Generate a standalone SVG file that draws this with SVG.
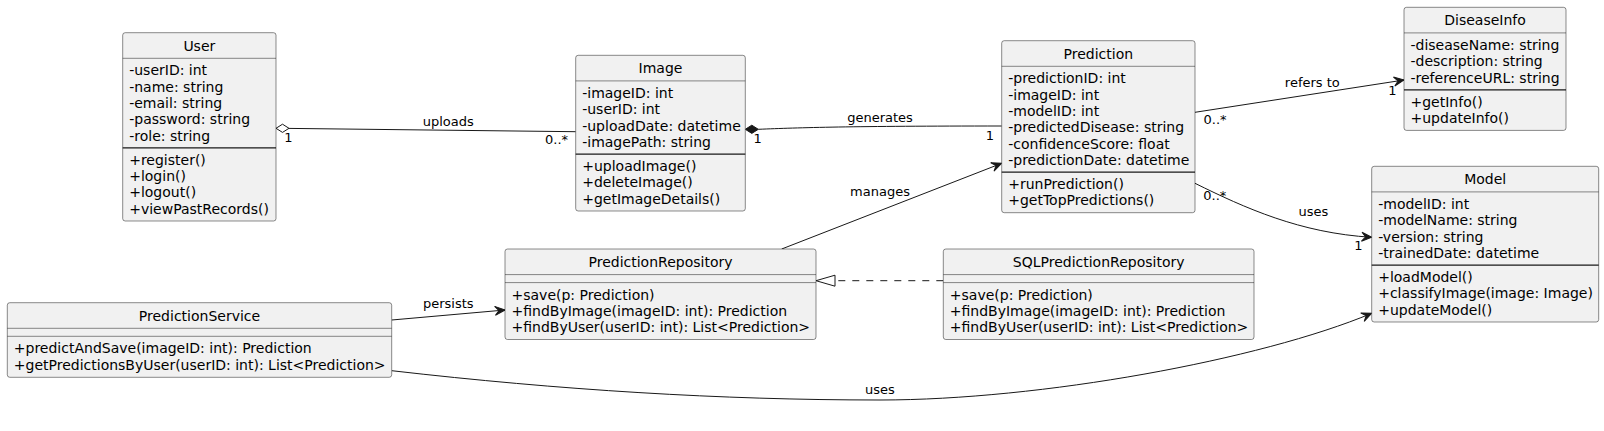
<svg xmlns="http://www.w3.org/2000/svg" width="1604" height="431" viewBox="0 0 1604 431">
<style>
.box{fill:#F1F1F1;stroke:#181818;stroke-width:0.5}
.div{stroke:#181818;stroke-width:0.5}
.sep{stroke:#181818;stroke-width:1.2}
text{font-family:"DejaVu Sans",sans-serif;fill:#000000}
.t{font-size:14px;text-anchor:middle}
.m{font-size:14px}
.l{font-size:13px}
.lc{font-size:13px;text-anchor:middle}
.edge{fill:none;stroke:#181818;stroke-width:1}
</style>
<defs>
<marker id="arr" markerUnits="userSpaceOnUse" markerWidth="14" markerHeight="12" viewBox="-12 -6 14 12" refX="0" refY="0" orient="auto">
<path d="M0,0 L-10,-4.5 L-6,0 L-10,4.5 Z" fill="#181818" stroke="#181818" stroke-width="1"/>
</marker>
</defs>
<rect width="1604" height="431" fill="#FFFFFF"/>

<g id="connectors">
<path class="edge" d="M289,128.4 L575.7,131.7"/>
<polygon points="276,128.3 282.5,124.2 289,128.3 282.5,132.4" fill="#FFFFFF" stroke="#181818" stroke-width="1"/>
<text class="lc" x="448.3" y="125.5">uploads</text>
<text class="lc" x="288.3" y="141.5">1</text>
<text class="l" x="545" y="143.7">0..*</text>

<path class="edge" d="M758.3,129.3 C800,127.6 850,126 1001.7,126"/>
<polygon points="745.3,129.3 751.8,125.2 758.3,129.3 751.8,133.4" fill="#181818" stroke="#181818" stroke-width="1"/>
<text class="lc" x="880" y="122">generates</text>
<text class="lc" x="757.7" y="143">1</text>
<text class="lc" x="990" y="139.7">1</text>

<path class="edge" d="M1195,112.3 L1404,80" marker-end="url(#arr)"/>
<text class="lc" x="1312.3" y="87">refers to</text>
<text class="l" x="1203.5" y="123.7">0..*</text>
<text class="lc" x="1392.3" y="95.4">1</text>

<path class="edge" d="M1195,183.3 C1245,208 1300,233 1371.7,237.3" marker-end="url(#arr)"/>
<text class="lc" x="1313.3" y="215.5">uses</text>
<text class="l" x="1203.3" y="199.7">0..*</text>
<text class="lc" x="1358.3" y="249.7">1</text>

<path class="edge" d="M781.7,249 L1001.7,163.3" marker-end="url(#arr)"/>
<text class="lc" x="880" y="195.5">manages</text>

<path class="edge" d="M391.7,320 L505,310" marker-end="url(#arr)"/>
<text class="lc" x="448.3" y="308">persists</text>

<path class="edge" d="M943.3,280.7 L835,280.7" stroke-dasharray="7,7"/>
<polygon points="816,280.7 835,275.2 835,286.2" fill="#FFFFFF" stroke="#181818" stroke-width="1"/>

<path class="edge" d="M391.7,370.7 C560,390 720,400 880,400 C1040,400 1260,360 1371.7,313.3" marker-end="url(#arr)"/>
<text class="lc" x="880" y="394">uses</text>
</g>

<g id="User">
<rect class="box" x="122.7" y="32.7" width="153.3" height="188.3" rx="2.5"/>
<text class="t" x="199.35" y="50.5">User</text>
<line class="div" x1="122.7" y1="58.3" x2="276" y2="58.3"/>
<text class="m" x="129.2" y="75.3">-userID: int</text>
<text class="m" x="129.2" y="91.6">-name: string</text>
<text class="m" x="129.2" y="107.9">-email: string</text>
<text class="m" x="129.2" y="124.2">-password: string</text>
<text class="m" x="129.2" y="140.5">-role: string</text>
<line class="sep" x1="122.7" y1="147.8" x2="276" y2="147.8"/>
<text class="m" x="129.2" y="164.8">+register()</text>
<text class="m" x="129.2" y="181.1">+login()</text>
<text class="m" x="129.2" y="197.4">+logout()</text>
<text class="m" x="129.2" y="213.7">+viewPastRecords()</text>
</g>

<g id="Image">
<rect class="box" x="575.7" y="55.3" width="169.6" height="155.7" rx="2.5"/>
<text class="t" x="660.5" y="73.1">Image</text>
<line class="div" x1="575.7" y1="80.9" x2="745.3" y2="80.9"/>
<text class="m" x="582.2" y="97.9">-imageID: int</text>
<text class="m" x="582.2" y="114.2">-userID: int</text>
<text class="m" x="582.2" y="130.5">-uploadDate: datetime</text>
<text class="m" x="582.2" y="146.8">-imagePath: string</text>
<line class="sep" x1="575.7" y1="154.1" x2="745.3" y2="154.1"/>
<text class="m" x="582.2" y="171.1">+uploadImage()</text>
<text class="m" x="582.2" y="187.4">+deleteImage()</text>
<text class="m" x="582.2" y="203.7">+getImageDetails()</text>
</g>

<g id="Prediction">
<rect class="box" x="1001.7" y="40.7" width="193.3" height="172" rx="2.5"/>
<text class="t" x="1098.35" y="58.5">Prediction</text>
<line class="div" x1="1001.7" y1="66.3" x2="1195" y2="66.3"/>
<text class="m" x="1008.2" y="83.3">-predictionID: int</text>
<text class="m" x="1008.2" y="99.6">-imageID: int</text>
<text class="m" x="1008.2" y="115.9">-modelID: int</text>
<text class="m" x="1008.2" y="132.2">-predictedDisease: string</text>
<text class="m" x="1008.2" y="148.5">-confidenceScore: float</text>
<text class="m" x="1008.2" y="164.8">-predictionDate: datetime</text>
<line class="sep" x1="1001.7" y1="172.1" x2="1195" y2="172.1"/>
<text class="m" x="1008.2" y="189.1">+runPrediction()</text>
<text class="m" x="1008.2" y="205.4">+getTopPredictions()</text>
</g>

<g id="DiseaseInfo">
<rect class="box" x="1404" y="7.3" width="162" height="123.1" rx="2.5"/>
<text class="t" x="1485" y="25.1">DiseaseInfo</text>
<line class="div" x1="1404" y1="32.9" x2="1566" y2="32.9"/>
<text class="m" x="1410.5" y="49.9">-diseaseName: string</text>
<text class="m" x="1410.5" y="66.2">-description: string</text>
<text class="m" x="1410.5" y="82.5">-referenceURL: string</text>
<line class="sep" x1="1404" y1="89.8" x2="1566" y2="89.8"/>
<text class="m" x="1410.5" y="106.8">+getInfo()</text>
<text class="m" x="1410.5" y="123.1">+updateInfo()</text>
</g>

<g id="Model">
<rect class="box" x="1371.7" y="166.3" width="227" height="155.7" rx="2.5"/>
<text class="t" x="1485.2" y="184.1">Model</text>
<line class="div" x1="1371.7" y1="191.9" x2="1598.7" y2="191.9"/>
<text class="m" x="1378.2" y="208.9">-modelID: int</text>
<text class="m" x="1378.2" y="225.2">-modelName: string</text>
<text class="m" x="1378.2" y="241.5">-version: string</text>
<text class="m" x="1378.2" y="257.8">-trainedDate: datetime</text>
<line class="sep" x1="1371.7" y1="265.1" x2="1598.7" y2="265.1"/>
<text class="m" x="1378.2" y="282.1">+loadModel()</text>
<text class="m" x="1378.2" y="298.4">+classifyImage(image: Image)</text>
<text class="m" x="1378.2" y="314.7">+updateModel()</text>
</g>

<g id="PredictionRepository">
<rect class="box" x="505" y="249" width="311" height="90.5" rx="2.5"/>
<text class="t" x="660.5" y="266.8">PredictionRepository</text>
<line class="div" x1="505" y1="274.6" x2="816" y2="274.6"/>
<line class="div" x1="505" y1="282.6" x2="816" y2="282.6"/>
<text class="m" x="511.5" y="299.6">+save(p: Prediction)</text>
<text class="m" x="511.5" y="315.9">+findByImage(imageID: int): Prediction</text>
<text class="m" x="511.5" y="332.2">+findByUser(userID: int): List&lt;Prediction&gt;</text>
</g>

<g id="SQLPredictionRepository">
<rect class="box" x="943.3" y="249" width="310.7" height="90.5" rx="2.5"/>
<text class="t" x="1098.65" y="266.8">SQLPredictionRepository</text>
<line class="div" x1="943.3" y1="274.6" x2="1254" y2="274.6"/>
<line class="div" x1="943.3" y1="282.6" x2="1254" y2="282.6"/>
<text class="m" x="949.8" y="299.6">+save(p: Prediction)</text>
<text class="m" x="949.8" y="315.9">+findByImage(imageID: int): Prediction</text>
<text class="m" x="949.8" y="332.2">+findByUser(userID: int): List&lt;Prediction&gt;</text>
</g>

<g id="PredictionService">
<rect class="box" x="7.3" y="302.7" width="384.4" height="74.6" rx="2.5"/>
<text class="t" x="199.5" y="320.5">PredictionService</text>
<line class="div" x1="7.3" y1="328.3" x2="391.7" y2="328.3"/>
<line class="div" x1="7.3" y1="336.3" x2="391.7" y2="336.3"/>
<text class="m" x="13.8" y="353.3">+predictAndSave(imageID: int): Prediction</text>
<text class="m" x="13.8" y="369.6">+getPredictionsByUser(userID: int): List&lt;Prediction&gt;</text>
</g>
</svg>
